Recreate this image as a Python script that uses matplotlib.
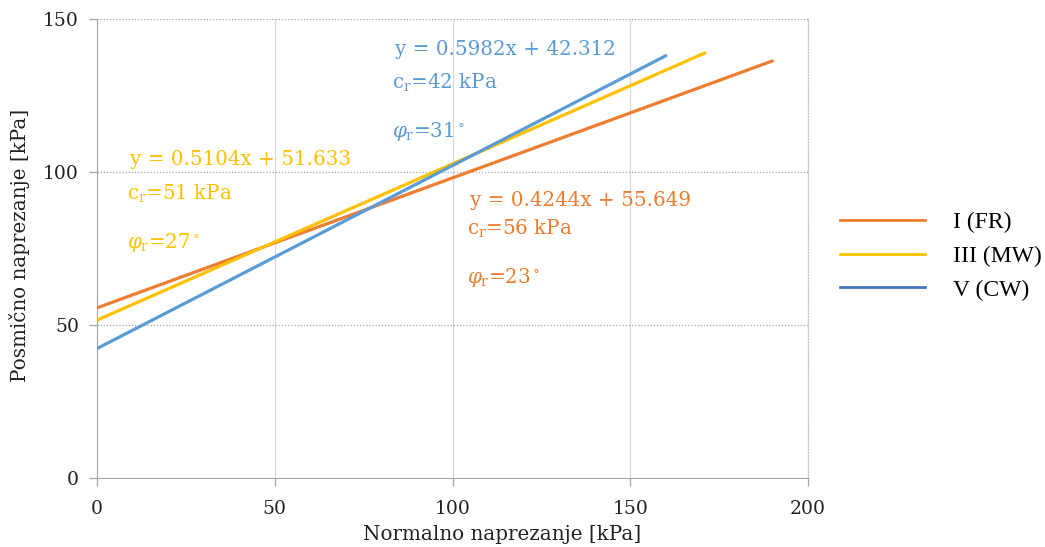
import matplotlib
matplotlib.use("Agg")
import matplotlib.pyplot as plt
from matplotlib.lines import Line2D

plt.rcParams['font.family'] = ['DejaVu Serif']
plt.rcParams['mathtext.fontset'] = 'dejavuserif'

# trend lines (end points)
fr_x = [0, 190]
fr_y = [55.6, 136.3]
mw_x = [0, 171]
mw_y = [51.6, 138.9]
cw_x = [0, 160]
cw_y = [42.3, 138.0]

labels = ['I (FR)', 'III (MW)', 'V (CW)']
equations = ['y = 0.4244x + 55.649', 'y = 0.5104x + 51.633', 'y = 0.5982x + 42.312']
cohesion = ['56', '51', '42']
friction = ['23', '27', '31']

orange = '#ED7D31'
yellow = '#FFC000'
blue = '#5B9BD5'
blue_leg = '#4472C4'

fig = plt.figure(figsize=(10.45, 5.47), dpi=100)
ax = fig.add_axes([97/1045, 69/547, 711/1045, 459/547])

ax.plot(fr_x, fr_y, color=orange, lw=2.3, solid_capstyle='round', zorder=3)
ax.plot(mw_x, mw_y, color=yellow, lw=2.3, solid_capstyle='round', zorder=3)
ax.plot(cw_x, cw_y, color=blue, lw=2.3, solid_capstyle='round', zorder=3)

ax.set_xlim(0, 200)
ax.set_ylim(0, 150)
ax.set_xticks([0, 50, 100, 150, 200])
ax.set_yticks([0, 50, 100, 150])

ax.xaxis.grid(True, color='#D9D9D9', lw=0.9, ls='-')
ax.yaxis.grid(True, color='#A6A6A6', lw=0.9, ls=(0, (1, 1.5)))
ax.set_axisbelow(True)

ax.spines['top'].set_visible(False)
ax.spines['right'].set_color('#BFBFBF')
ax.spines['right'].set_linestyle((0, (1, 1.5)))
ax.spines['left'].set_color('#A6A6A6')
ax.spines['bottom'].set_color('#A6A6A6')
ax.tick_params(axis='both', colors='#A6A6A6', labelcolor='#222222',
               labelsize=13.5, length=6, width=0.9)
ax.tick_params(axis='x', pad=10)
ax.tick_params(axis='y', pad=7)

# annotations
fs = 14.3
ax.text(104.9, 88.9, equations[0], color=orange, fontsize=fs)
ax.text(104.1, 79.4, r'c$_{\rm r}$=' + cohesion[0] + ' kPa', color=orange, fontsize=fs)
ax.text(104.1, 63.7, r'$\varphi_{\rm r}$=' + friction[0] + r'$^\circ$', color=orange, fontsize=fs)

ax.text(9.3, 102.3, equations[1], color=yellow, fontsize=fs)
ax.text(8.4, 90.8, r'c$_{\rm r}$=' + cohesion[1] + ' kPa', color=yellow, fontsize=fs)
ax.text(8.4, 75.2, r'$\varphi_{\rm r}$=' + friction[1] + r'$^\circ$', color=yellow, fontsize=fs)

ax.text(83.8, 138.2, equations[2], color=blue, fontsize=fs)
ax.text(83.0, 127.1, r'c$_{\rm r}$=' + cohesion[2] + ' kPa', color=blue, fontsize=fs)
ax.text(83.0, 111.4, r'$\varphi_{\rm r}$=' + friction[2] + r'$^\circ$', color=blue, fontsize=fs)

fig.text(502/1045, 1 - 535/547, 'Normalno naprezanje [kPa]', ha='center', va='center',
         fontsize=14.3, color='#222222')
fig.text(20/1045, 1 - 245/547, 'Posmično naprezanje [kPa]', ha='center', va='center',
         rotation=90, fontsize=14.3, color='#222222')

handles = [Line2D([], [], color=orange, lw=2),
           Line2D([], [], color=yellow, lw=2),
           Line2D([], [], color=blue_leg, lw=2)]
fig.legend(handles, labels, loc='center left', bbox_to_anchor=(828/1045, 1 - 256/547),
           frameon=False, prop={'family': 'Liberation Serif', 'size': 17},
           handlelength=3.6, handletextpad=1.2, labelspacing=0.52, borderpad=0)

fig.savefig('out.png', dpi=100)
